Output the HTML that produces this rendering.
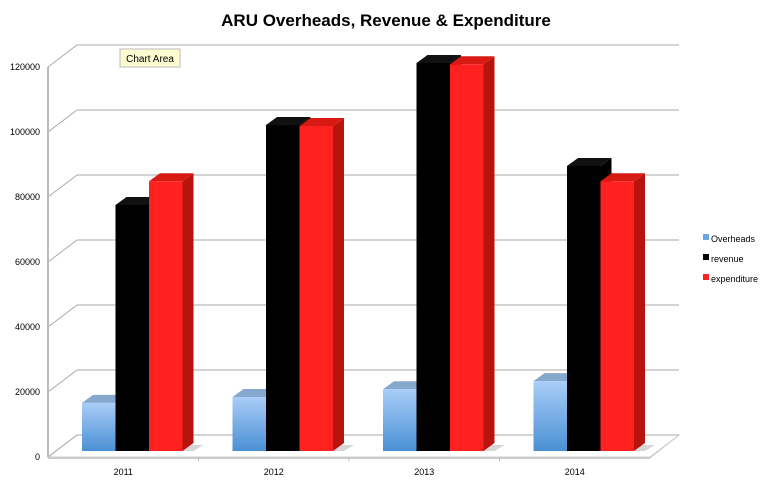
<!DOCTYPE html>
<html><head><meta charset="utf-8"><style>
body{margin:0;background:#fff;width:772px;height:484px;overflow:hidden;font-family:"Liberation Sans",sans-serif}
svg text{font-family:"Liberation Sans",sans-serif}
</style></head><body>
<svg id="chart" width="772" height="484" viewBox="0 0 772 484">
<defs>
<linearGradient id="blueGrad" x1="0" y1="0" x2="0" y2="1"><stop offset="0" stop-color="#a9cdf8"/><stop offset="1" stop-color="#4a90d4"/></linearGradient>
<linearGradient id="shadowGrad" x1="0" y1="0" x2="0" y2="1"><stop offset="0" stop-color="#aaa"/><stop offset="1" stop-color="#eee"/></linearGradient>
</defs>
<text x="386" y="26" text-anchor="middle" font-size="17" font-weight="bold" fill="#000">ARU Overheads, Revenue &amp; Expenditure</text>
<g id="grid"></g><g id="bars"></g>
<g font-size="9">
<rect x="703" y="234" width="6" height="6" fill="#6aa6e6"/>
<text x="711" y="242">Overheads</text>
<rect x="703" y="254" width="6" height="6" fill="#000"/>
<text x="711" y="262">revenue</text>
<rect x="703" y="274" width="6" height="6" fill="#ff2020"/>
<text x="711" y="282">expenditure</text>
</g>
<g>
<rect x="120" y="49" width="60" height="18" fill="#fdfbd0" stroke="#bbb"/>
<text x="150" y="62" text-anchor="middle" font-size="10">Chart Area</text>
</g>
</svg>
<script>
const categories=["2011","2012","2013","2014"];
const overheads=[14800,16600,19000,21500];
const revenue=[75700,100300,119400,87700];
const expenditure=[83000,100000,119000,83000];
const yTicks=[0,20000,40000,60000,80000,100000,120000];
const NS="http://www.w3.org/2000/svg";
const grid=document.getElementById('grid'),bars=document.getElementById('bars');
const X0=48,X1=650,Y0=457,Ymax=120000,H=390,DX=29,DY=-22;
const catW=(X1-X0)/categories.length;
function yFront(v){return Y0-v/Ymax*H;}
function mk(tag,attrs,parent){const e=document.createElementNS(NS,tag);for(const k in attrs)e.setAttribute(k,attrs[k]);parent.appendChild(e);return e;}
// back wall & floor
let fl=mk('polygon',{points:`${X0},${Y0} ${X1},${Y0} ${X1+DX},${Y0+DY} ${X0+DX},${Y0+DY}`,fill:'#fff',stroke:'#ccc'},grid);


yTicks.forEach(t=>{
 const y=yFront(t);
 const g=mk('polyline',{points:`${X0},${y} ${X0+DX},${y+DY} ${X1+DX},${y+DY}`,fill:'none',stroke:'#aaa','stroke-width':1},grid);
 
 
 const tx=mk('text',{x:X0-8,y:y+3,'text-anchor':'end','font-size':9},grid);
 tx.textContent=t;
 
 
});
mk('line',{x1:X0,y1:Y0,x2:X0,y2:yFront(120000),stroke:'#bbb','stroke-width':2},grid);
mk('line',{x1:X0,y1:Y0+1,x2:X1,y2:Y0+1,stroke:'#ccc','stroke-width':2},grid);
mk('line',{x1:X1,y1:Y0+1,x2:X1+DX,y2:Y0+DY,stroke:'#ccc'},grid);
const series=[{d:overheads,f:'url(#blueGrad)',t:'#86a8cc',s:'#5f8fbf',n:'overheads'},{d:revenue,f:'#000',t:'#111',s:'#000',n:'revenue'},{d:expenditure,f:'#ff2020',t:'#d81a14',s:'#b8140e',n:'expenditure'}];
const BW=33.5,BD=11,BH=-8,BY=451,scale=H/Ymax;
categories.forEach((c,i)=>{
 const cx=X0+catW*(i+0.5);
 const tx=mk('text',{x:cx,y:475,'text-anchor':'middle','font-size':9},grid);
 tx.textContent=c;
 
 
 if(i<categories.length-1){mk('line',{x1:X0+catW*(i+1),y1:Y0,x2:X0+catW*(i+1),y2:Y0+4,stroke:'#bbb'},grid);}
 const gx=cx+9-BW*1.5;
 const sh=mk('polygon',{points:`${gx},${BY} ${gx+BW*3+BD},${BY} ${gx+BW*3+BD+10},${BY-6} ${gx+BD},${BY-6}`,fill:'#bbb',opacity:0.6},bars);
 
 
 series.forEach((s,j)=>{
  const x=gx+j*BW, top=BY-s.d[i]*scale;
  const g=mk('g',{},bars);
  
  
  mk('polygon',{points:`${x+BW},${top} ${x+BW+BD},${top+BH} ${x+BW+BD},${BY+BH} ${x+BW},${BY}`,fill:s.s},g);
  mk('polygon',{points:`${x},${top} ${x+BD},${top+BH} ${x+BW+BD},${top+BH} ${x+BW},${top}`,fill:s.t},g);
  mk('rect',{x:x,y:top,width:BW,height:BY-top,fill:s.f},g);
 });
});
</script>
</body></html>
